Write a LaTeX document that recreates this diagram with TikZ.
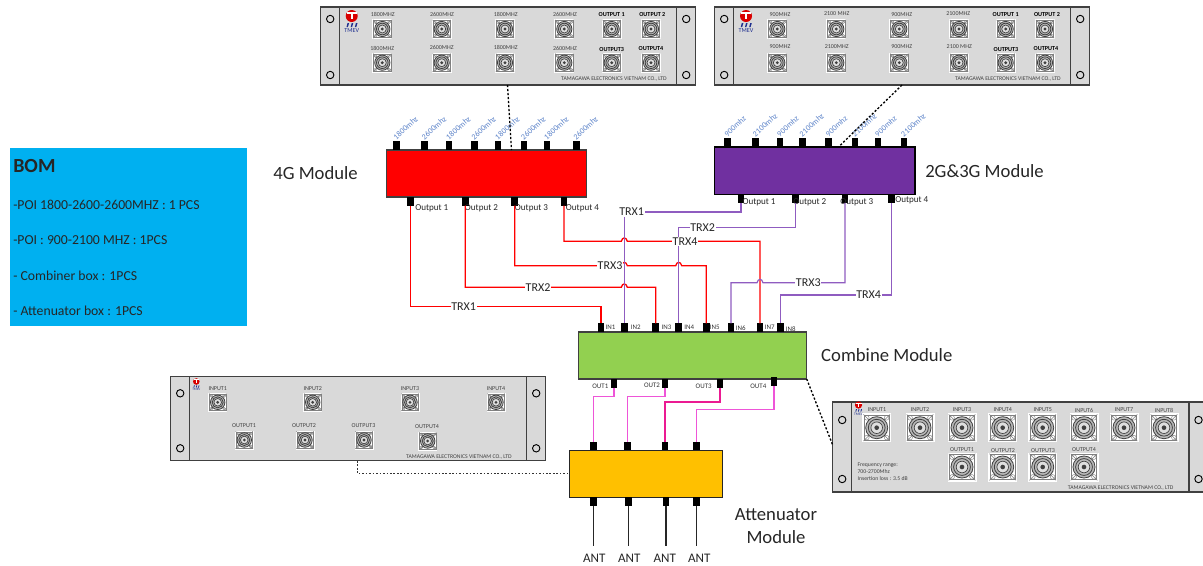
\documentclass[tikz,border=0pt]{standalone}
\usepackage{fontspec}
\setmainfont{Carlito}
\usetikzlibrary{arrows.meta,positioning,calc}
\definecolor{rackgray}{HTML}{D9D9D9}
\definecolor{rackedge}{HTML}{404040}
\definecolor{bomblue}{HTML}{00B0F0}
\definecolor{violetmod}{HTML}{7030A0}
\definecolor{greenmod}{HTML}{92D050}
\definecolor{ambermod}{HTML}{FFC000}
\definecolor{freqblue}{HTML}{5B82C8}
\definecolor{wirepur}{HTML}{8F5CC0}
\definecolor{wirepink}{HTML}{EE55D8}
\definecolor{logoblue}{HTML}{1F2F8F}
\newcommand{\ptsize}[1]{\fontsize{#1}{#1}\selectfont}
\newcommand{\hop}[2]{-- ({#1-3},#2) .. controls ({#1-2},{#2-4.5}) and ({#1+2},{#2-4.5}) .. ({#1+3},#2) --}
\newcommand{\rfjack}[3]{
  \begin{scope}[shift={(#1,#2)},scale=#3]
    \fill[white] (-.5,-.5) rectangle (.5,.5);
    \draw[gray,line width=.35pt] (-.43,-.43) rectangle (.43,.43);
    \foreach \sx/\sy in {-.34/-.34,-.34/.34,.34/-.34,.34/.34} {
      \draw[gray,line width=.3pt] (\sx,\sy) circle (.08);
      \draw[gray,line width=.4pt] (0,0) -- ({\sx*1.35},{\sy*1.35});
    }
    \fill[gray!55] (0,0) circle (.38);
    \draw[rackedge,line width=.6pt] (0,0) circle (.38);
    \draw[rackedge,line width=.6pt] (0,0) circle (.29);
    \fill[gray!25] (0,0) circle (.2);
    \draw[rackedge,line width=.5pt] (0,0) circle (.2);
    \fill[rackedge] (0,0) circle (.08);
  \end{scope}
}
\newcommand{\tmevlogo}[4]{
  \begin{scope}[shift={(#2,#3)},scale=#4]
    \fill[red!85!black] (0,0) circle (6);
    \fill[white] (-5,-3.8) rectangle (5,-2.4);
    \fill[white] (-1,-2.4) rectangle (1,2.5);
    \foreach \mx in {-4.2,0,4.2}
      \fill[logoblue] ({\mx-1},11) -- ({\mx+.4},11) -- ({\mx+1.6},7) -- ({\mx},7) -- cycle;
    \node[inner sep=0pt,text=logoblue,scale=#4,font=\ptsize{4.6}] (#1) at (0,14.8) {TMEV};
  \end{scope}
}
\newcommand{\rackears}[4]{
  \draw[rackline] ($(#1.north west)+(#2,0)$) -- ($(#1.south west)+(#2,0)$);
  \draw[rackline] ($(#1.north east)+(-#2,0)$) -- ($(#1.south east)+(-#2,0)$);
  \draw[screw] ($(#1.north west)+({#2/2},#3)$) circle (3.7);
  \draw[screw] ($(#1.south west)+({#2/2},-#4)$) circle (3.7);
  \draw[screw] ($(#1.north east)+({-#2/2},#3)$) circle (3.7);
  \draw[screw] ($(#1.south east)+({-#2/2},-#4)$) circle (3.7);
}
\tikzset{
  rackbody/.style 2 args={rectangle, draw=rackedge, line width=1pt, fill=rackgray, inner sep=0pt,
                          outer sep=0pt, minimum width=#1*0.75pt, minimum height=#2*0.75pt},
  rackline/.style={draw=rackedge, line width=1pt},
  screw/.style={draw=black, line width=.7pt, fill=rackgray},
  modbox/.style n args={3}{rectangle, draw=rackedge, line width=.9pt, fill=#3, inner sep=0pt,
                           outer sep=0pt, minimum width=#1*0.75pt, minimum height=#2*0.75pt},
  portblk/.style={rectangle, fill=black, inner sep=0pt, outer sep=0pt,
                  minimum width=5.2pt, minimum height=6.4pt},
  paneltxt/.style={inner sep=0pt, text=rackedge, font=\ptsize{4.5}},
  panelbold/.style={inner sep=0pt, text=black, font=\ptsize{4.6}\bfseries},
  freqlbl/.style={inner sep=0pt, text=freqblue, font=\ptsize{6}, rotate=42, anchor=south west},
  outlbl/.style={inner sep=0pt, text=black!85, font=\ptsize{6.8}, anchor=west},
  inlbl/.style={inner sep=0pt, text=black!80, font=\ptsize{5.2}},
  trxlbl/.style={fill=white, inner sep=.6pt, text=black!85, font=\ptsize{9}},
  modlabel/.style={inner sep=0pt, align=center, text=black!85, font=\fontsize{14}{17.3}\selectfont},
  antlbl/.style={inner sep=0pt, text=black!85, font=\ptsize{9.8}},
  redwire/.style={draw=red, line width=.95pt},
  purwire/.style={draw=wirepur, line width=.9pt},
  pinkwire/.style={draw=wirepink, line width=1pt},
  antwire/.style={draw=black!85, line width=1.1pt},
  dotlink/.style={draw=black, line width=1pt, dash pattern=on 1.6pt off 1.4pt},
  thinlink/.style={draw=black!80, line width=.6pt, dash pattern=on 1.2pt off 1.4pt},
}
\begin{document}
\begin{tikzpicture}[x=0.75pt,y=-0.75pt]
  \path[use as bounding box,clip] (0,0) rectangle (1203,565);

  \node[modbox={237}{178}{bomblue},draw=none] (bom) at (128.5,237) {};
  \node[inner sep=0pt,anchor=west,font=\fontsize{15}{15}\selectfont\bfseries,text=black!85] (bomhead) at (13,166) {BOM};
  \foreach \yy/\lbl [count=\i] in {205/-POI 1800-2600-2600MHZ : 1 PCS,240/-POI : 900-2100 MHZ :  1PCS,276/- Combiner box : 1PCS,311/- Attenuator box : 1PCS}
    \node[inner sep=0pt,anchor=west,font=\ptsize{10.3},text=black!85] (bomline\i) at (13,\yy) {\lbl};

  \node[rackbody={375}{78}] (rack4g) at (508.2,46) {};
  \node[rackbody={375}{78}] (rack23g) at (902.2,46) {};
  \node[rackbody={375}{84}] (rackatt) at (358.2,418.7) {};
  \node[rackbody={375.3}{90}] (rackcomb) at (1020.35,447) {};
  \rackears{rack4g}{19}{12}{10}
  \rackears{rack23g}{19}{12}{10}
  \rackears{rackatt}{19}{16.6}{12.4}
  \rackears{rackcomb}{19}{18}{13}

  \tmevlogo{logo4g}{351.7}{16}{1}
  \tmevlogo{logo23g}{746}{16}{1}
  \tmevlogo{logoatt}{196.3}{381.5}{.55}
  \tmevlogo{logocomb}{858.5}{405}{.6}

  \foreach \xx in {382.3,441.7,505,564.3,611.7,651}
    \foreach \yy in {29,62.7} {\rfjack{\xx}{\yy}{20}}
  \foreach \xx in {777.3,836.3,899.3,959,1005.7,1045}
    \foreach \yy in {29,62.7} {\rfjack{\xx}{\yy}{20}}
  \foreach \xx in {217.7,312.7,410,496} {\rfjack{\xx}{402.3}{19}}
  \foreach \xx/\yy in {244.3/440,305/440,364/440,427.7/441} {\rfjack{\xx}{\yy}{19}}
  \foreach \xx in {876.7,920,962,1002.7,1042.7,1084,1124,1164} {\rfjack{\xx}{427.7}{29}}
  \foreach \xx in {962,1002.7,1042.7,1084} {\rfjack{\xx}{467}{29}}

  \foreach \xx/\yy/\lbl [count=\i] in {382.7/14/1800MHZ,442/14/2600MHZ,505.7/14/1800MHZ,565/14/2600MHZ,382.3/48.3/1800MHZ,441.7/47/2600MHZ,505.7/47/1800MHZ,565/48/2600MHZ,780/14.7/900MHZ,836.7/13.7/2100 MHZ,901.7/15/900MHZ,958.3/14/2100MHZ,780/47/900MHZ,836.7/47/2100MHZ,901.7/47/900MHZ,959.3/47/2100 MHZ}
    \node[paneltxt] (txtfreq\i) at (\xx,\yy) {\lbl};
  \foreach \xx/\yy/\lbl [count=\i] in {611.7/15/OUTPUT 1,652.3/15/OUTPUT 2,611.7/49.7/OUTPUT3,651/49/OUTPUT4,1005.7/15/OUTPUT 1,1047/15/OUTPUT 2,1006/49.7/OUTPUT3,1046/49/OUTPUT4}
    \node[panelbold] (txtout\i) at (\xx,\yy) {\lbl};
  \foreach \xx/\yy/\lbl [count=\i] in {217.7/389/INPUT1,312.7/389/INPUT2,410/389/INPUT3,496/389/INPUT4,244/425.7/OUTPUT1,304/425.7/OUTPUT2,363.5/425.7/OUTPUT3,427/427/OUTPUT4,877/410/INPUT1,920/410/INPUT2,962/410/INPUT3,1002.7/410/INPUT4,1042.7/410/INPUT5,1084/410/INPUT6,1124/410/INPUT7,1164/410/INPUT8,962/449.5/OUTPUT1,1003/450.5/OUTPUT2,1043/450.5/OUTPUT3,1084/449.5/OUTPUT4}
    \node[paneltxt] (txtport\i) at (\xx,\yy) {\lbl};
  \foreach \xx/\yy [count=\i] in {614/79,1008/79,459/456.7,1120.7/488}
    \node[paneltxt,font=\ptsize{4.3}] (txtmaker\i) at (\xx,\yy) {TAMAGAWA ELECTRONICS VIETNAM CO., LTD};
  \foreach \yy/\lbl [count=\i] in {465/Frequency range:,472/700-2700Mhz,479/Insertion loss : 3.5 dB}
    \node[paneltxt,font=\ptsize{4.3},anchor=west] (txtspec\i) at (857.3,\yy) {\lbl};

  \node[modbox={200}{47}{red}] (mod4g) at (486.7,173.5) {};
  \node[modbox={200.3}{47.3}{violetmod},draw=black] (mod23g) at (814.85,170.65) {};
  \node[modbox={228}{47}{greenmod}] (modcomb) at (692.7,355.5) {};
  \node[modbox={153.4}{47}{ambermod},draw=black!85] (modatt) at (646,473.8) {};
  \node[modlabel,left=21.5pt of mod4g] (lbl4g) {4G Module};
  \node[modlabel,right=7.5pt of mod23g] (lbl23g) {2G\&3G Module};
  \node[modlabel,right=10.7pt of modcomb] (lblcomb) {Combine Module};
  \node[modlabel] (lblatt) at (776,526.5) {Attenuator\\Module};

  \foreach \xx/\lbl [count=\i] in {396.3/1800mhz,424.7/2600mhz,449/1800mhz,474.3/2600mhz,498/1800mhz,524/2600mhz,547/1800mhz,576.3/2600mhz} {
    \node[portblk,anchor=south] (top4g\i) at (\xx,150) {};
    \node[freqlbl] (frq4g\i) at ($(top4g\i.north)+(0,-1)$) {\lbl};
  }
  \foreach \xx/\lbl [count=\i] in {727.3/900mhz,755.7/2100mhz,780/900mhz,802.3/2100mhz,828.7/900mhz,855/2100mhz,878/900mhz,904/2100mhz} {
    \node[portblk,anchor=south] (top23g\i) at (\xx,147) {};
    \node[freqlbl] (frq23g\i) at ($(top23g\i.north)+(0,-1)$) {\lbl};
  }
  \foreach \xx/\lx [count=\i] in {410.7/415,465.3/464.7,514.7/514.7,564/565.7} {
    \node[portblk,anchor=north] (out4g\i) at (\xx,197) {};
    \node[outlbl] (lbo4g\i) at (\lx,208) {Output \i};
  }
  \foreach \xx/\lx/\ly [count=\i] in {741/742.3/202,795.7/793/202,845/840/202,891.7/895/200} {
    \node[portblk,anchor=north] (out23g\i) at (\xx,194.3) {};
    \node[outlbl] (lbo23g\i) at (\lx,\ly) {Output \i};
  }
  \foreach \xx/\lx/\ly [count=\i] in {601/605.3/327.7,624.3/630.7/327.7,655.7/661.3/327.7,678.7/684/327.7,706.3/709.7/327.7,731/735.7/327.7,760/764.7/327.7,780.3/785.7/329} {
    \node[portblk,anchor=south] (inp\i) at (\xx,332) {};
    \node[inlbl,anchor=west] (lbin\i) at (\lx,\ly) {IN\i};
  }
  \foreach \xx/\yy/\lx/\ly [count=\i] in {614/379/600.3/386.7,665/379/652/385.3,720/379/703.7/386.7,774/377.3/758.3/386.7} {
    \node[portblk,anchor=north] (opt\i) at (\xx,\yy) {};
    \node[inlbl] (lbopt\i) at (\lx,\ly) {OUT\i};
  }
  \foreach \xx [count=\i] in {593.7,627.7,665,696.7}
    \node[portblk,anchor=south] (ain\i) at (\xx,450.3) {};
  \foreach \xx/\lx [count=\i] in {593.7/594.3,628.7/629.3,666/664.7,696.7/699.3} {
    \node[portblk,anchor=north] (aout\i) at (\xx,497.3) {};
    \node[antlbl] (ant\i) at (\lx,558.7) {ANT};
    \draw[antwire] (aout\i.south) -- ($(aout\i.south)+(0,40.5)$);
  }

  \draw[redwire] (out4g1.south) |- (601,306.7) -- (inp1.north);
  \draw[redwire] (out4g2.south) -- (465.3,287.3) \hop{624.3}{287.3} (655.7,287.3) -- (inp3.north);
  \draw[redwire] (out4g3.south) -- (514.7,265.7) \hop{624.3}{265.7} (672,265.7) \hop{678.7}{265.7} (706.3,265.7) -- (inp5.north);
  \draw[redwire] (out4g4.south) -- (564,241.3) \hop{624.3}{241.3} (760,241.3) -- (inp7.north);
  \draw[purwire] (out23g1.south) |- (624.3,212) -- (inp2.north);
  \draw[purwire] (out23g2.south) |- (678.7,227.7) -- (inp4.north);
  \draw[purwire] (inp6.north) -- (731,282.7) \hop{760}{282.7} (845,282.7) -- (out23g3.south);
  \draw[purwire] (out23g4.south) |- (780.3,295) -- (inp8.north);
  \draw[pinkwire] (opt1.south) |- (593.7,396.7) -- (ain1.north);
  \draw[pinkwire] (opt2.south) |- (627.7,396.7) -- (ain2.north);
  \draw[pinkwire,draw=magenta!75!wirepink,line width=1.3pt] (opt3.south) |- (665,401.7) -- (ain3.north);
  \draw[pinkwire] (opt4.south) |- (696.7,409.3) -- (ain4.north);

  \node[trxlbl] (trxr1) at (463.7,306.7) {TRX1};
  \node[trxlbl] (trxr2) at (538,287.3) {TRX2};
  \node[trxlbl] (trxr3) at (610,265.7) {TRX3};
  \node[trxlbl] (trxr4) at (685,241.3) {TRX4};
  \node[trxlbl] (trxp1) at (631.7,212) {TRX1};
  \node[trxlbl] (trxp2) at (702.7,227.7) {TRX2};
  \node[trxlbl] (trxp3) at (808.3,282.7) {TRX3};
  \node[trxlbl] (trxp4) at (868.7,295) {TRX4};

  \coordinate (tap4g) at (507.5,85);
  \coordinate (tap23g) at (902,85);
  \coordinate (tapatt) at (357.7,461);
  \coordinate (end4g) at (511.5,150);
  \coordinate (end23g) at (839,146.5);
  \coordinate (endcomb) at (832.7,445);
  \draw[dotlink] (tap4g) -- (end4g);
  \draw[dotlink] (tap23g) -- (end23g);
  \draw[dotlink] (modcomb.south east) -- (endcomb);
  \draw[thinlink] (tapatt) |- (modatt.west);
\end{tikzpicture}
\end{document}
